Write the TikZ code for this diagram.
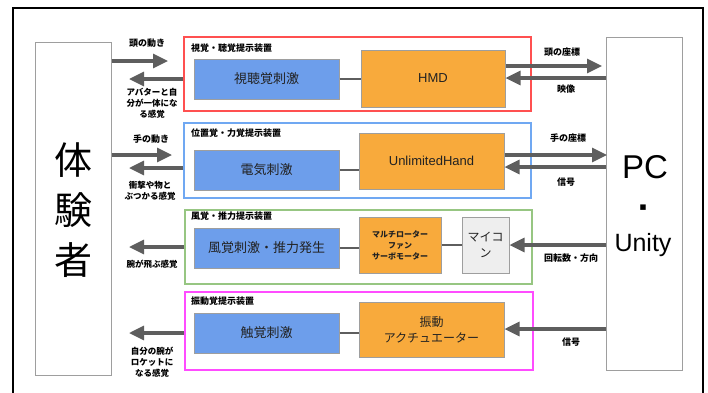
\documentclass[tikz,border=0pt]{standalone}
\usepackage{fontspec}
\setmainfont{Liberation Sans}
\newfontfamily\jp{Noto Sans CJK JP}
\newfontfamily\dv{DejaVu Sans}
\usetikzlibrary{arrows.meta}
\definecolor{bluebox}{HTML}{6D9EEB}
\definecolor{orangebox}{HTML}{F8AA3C}
\definecolor{graybox}{HTML}{EEEEEE}
\definecolor{arrgray}{HTML}{5E5E5E}
\definecolor{boxborder}{HTML}{9E9E9E}
\definecolor{grpred}{HTML}{FF5050}
\definecolor{grpblue}{HTML}{70A8F2}
\definecolor{grpgreen}{HTML}{97C682}
\definecolor{grpmag}{HTML}{FF4CFF}
\definecolor{txt}{HTML}{222222}
\begin{document}
\begin{tikzpicture}[x=1pt,y=-1pt,
  box/.style={draw=boxborder, line width=1pt, inner sep=0pt, align=center, text=txt},
  bluestim/.style={box, fill=bluebox, minimum width=145pt, minimum height=40pt, font=\jp\fontsize{13}{15}\selectfont},
  orangedev/.style={box, fill=orangebox},
  grp/.style={draw, line width=1.3pt, inner sep=0pt},
  arr/.style={draw=arrgray, line width=3.2pt, -{Triangle[length=15pt,width=14pt]}},
  lbl/.style={font=\jp\bfseries\fontsize{9}{10.5}\selectfont, align=center, inner sep=0pt},
  slbl/.style={font=\jp\bfseries\fontsize{8.5}{11}\selectfont, align=center, inner sep=0pt},
  ttl/.style={font=\jp\bfseries\fontsize{9}{10}\selectfont, anchor=west, inner sep=0pt},
  conn/.style={draw=arrgray, line width=1.2pt},
  side/.style={draw=boxborder, line width=1pt, minimum width=76pt, minimum height=333pt, inner sep=0pt}
]
\useasboundingbox (0,0) rectangle (708,392);
\fill[white] (0,0) rectangle (708,392);
\draw[line width=2pt] (13,400) -- (13,8) -- (703,8) -- (703,400);

% side boxes
\node[side] (subj) at (73,208.5) {};
\node[side] (pc) at (644,203.5) {};
\node[font=\jp\fontsize{38}{40}\selectfont, inner sep=0pt] (c1) at (73,160) {体};
\node[font=\jp\fontsize{38}{40}\selectfont, inner sep=0pt] (c2) at (73,210) {験};
\node[font=\jp\fontsize{38}{40}\selectfont, inner sep=0pt] (c3) at (73,260) {者};
\node[font=\fontsize{33}{35}\selectfont, inner sep=0pt] (pctxt) at (645,167) {PC};
\node[font=\dv\fontsize{11}{12}\selectfont, inner sep=0pt] (dot) at (643,208) {▪};
\node[font=\fontsize{25}{27}\selectfont, inner sep=0pt] (unity) at (643,245) {Unity};

% groups
\node[grp, draw=grpred, minimum width=347pt, minimum height=74pt] (gR) at (357.5,74) {};
\node[grp, draw=grpblue, minimum width=347pt, minimum height=75pt] (gB) at (357.5,160.5) {};
\node[grp, draw=grpgreen, minimum width=347pt, minimum height=74pt] (gG) at (358.5,247) {};
\node[grp, draw=grpmag, minimum width=348pt, minimum height=78pt] (gM) at (359,331) {};
\node[ttl] (tR) at (191,48) {視覚・聴覚提示装置};
\node[ttl] (tB) at (191,133) {位置覚・力覚提示装置};
\node[ttl] (tG) at (191,216) {風覚・推力提示装置};
\node[ttl] (tM) at (191,301) {振動覚提示装置};

% stimulus boxes
\node[bluestim] (b1) at (266.5,79) {視聴覚刺激};
\node[bluestim] (b2) at (266.5,170) {電気刺激};
\node[bluestim] (b3) at (266.5,248) {風覚刺激・推力発生};
\node[bluestim] (b4) at (266.5,333) {触覚刺激};

% devices
\node[orangedev, minimum width=144pt, minimum height=57pt, font=\fontsize{13}{15}\selectfont] (hmd) at (433,78.5) {HMD};
\node[orangedev, minimum width=145pt, minimum height=56pt, font=\fontsize{13}{15}\selectfont] (uh) at (431.5,161) {UnlimitedHand};
\node[orangedev, minimum width=82pt, minimum height=56pt, font=\jp\bfseries\fontsize{8}{11}\selectfont] (mr) at (400,245) {マルチローター\\ファン\\サーボモーター};
\node[box, fill=graybox, minimum width=47pt, minimum height=56pt, font=\jp\fontsize{12}{16}\selectfont] (mc) at (485.5,245) {マイコ\\ン};
\node[orangedev, minimum width=145pt, minimum height=55pt, font=\jp\fontsize{12}{16}\selectfont] (vib) at (431.5,329.5) {振動\\アクチュエーター};

% internal connectors
\draw[conn] (b1.east) -- (b1.east -| hmd.west);
\draw[conn] (b2.east) -- (b2.east -| uh.west);
\draw[conn] (b3.east) -- (b3.east -| mr.west);
\draw[conn] (mr.east |- mc.west) -- (mc.west);
\draw[conn] (b4.east) -- (b4.east -| vib.west);

% left side arrows
\coordinate (L1a) at (168,61);
\coordinate (L1b) at (129,79);
\coordinate (L2a) at (172,155);
\coordinate (L2b) at (129,168);
\coordinate (L3b) at (129,247);
\coordinate (L4b) at (129,333);
\draw[arr] (subj.east |- L1a) -- (L1a);
\draw[arr] (gR.west |- L1b) -- (L1b);
\draw[arr] (subj.east |- L2a) -- (L2a);
\draw[arr] (gB.west |- L2b) -- (L2b);
\draw[arr] (gG.west |- L3b) -- (L3b);
\draw[arr] (gM.west |- L4b) -- (L4b);

\node[lbl] (l1) at (147,43) {頭の動き};
\node[slbl] (l2) at (152,103) {アバターと自\\分が一体にな\\る感覚};
\node[lbl] (l3) at (151,139) {手の動き};
\node[slbl] (l4) at (150,191) {衝撃や物と\\ぶつかる感覚};
\node[slbl] (l5) at (152,264) {腕が飛ぶ感覚};
\node[slbl] (l6) at (152,362) {自分の腕が\\ロケットに\\なる感覚};

% right side arrows
\coordinate (R1a) at (602,66);
\coordinate (R1b) at (0,78);
\coordinate (R2a) at (607,155);
\coordinate (R2b) at (0,167);
\coordinate (R3) at (0,245);
\coordinate (R4) at (0,329);
\draw[arr] (hmd.east |- R1a) -- (R1a);
\draw[arr] (pc.west |- R1b) -- (hmd.east |- R1b);
\draw[arr] (uh.east |- R2a) -- (R2a);
\draw[arr] (pc.west |- R2b) -- (uh.east |- R2b);
\draw[arr] (pc.west |- R3) -- (mc.east |- R3);
\draw[arr] (pc.west |- R4) -- (vib.east |- R4);

\node[lbl] (r1) at (562,52) {頭の座標};
\node[lbl] (r2) at (566,89) {映像};
\node[lbl] (r3) at (568,138) {手の座標};
\node[lbl] (r4) at (566,182) {信号};
\node[lbl] (r5) at (571,258) {回転数・方向};
\node[lbl] (r6) at (571,342) {信号};
\end{tikzpicture}
\end{document}
